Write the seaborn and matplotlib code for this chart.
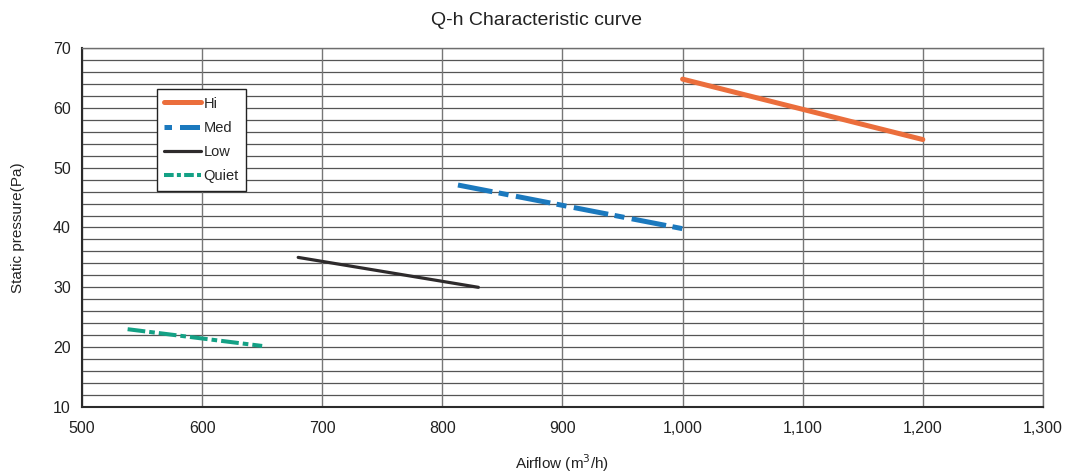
import matplotlib
matplotlib.use("Agg")
import matplotlib.pyplot as plt
import seaborn as sns
import pandas as pd

series_names = ["Hi", "Med", "Low", "Quiet"]
hi_x = [1000, 1200]
hi_y = [64.8, 54.7]
med_x = [813, 1000]
med_y = [47.1, 39.8]
low_x = [680, 830]
low_y = [35.0, 30.0]
quiet_x = [538, 650]
quiet_y = [23.0, 20.2]

x_ticks = [500, 600, 700, 800, 900, 1000, 1100, 1200, 1300]
x_labels = ["500", "600", "700", "800", "900", "1,000", "1,100", "1,200", "1,300"]
y_ticks = [10, 20, 30, 40, 50, 60, 70]

sns.set_theme(style="white")
plt.rcParams['font.family'] = ['Liberation Sans', 'DejaVu Sans']

fig = plt.figure(figsize=(10.73, 4.74), dpi=100)
ax = fig.add_axes([0.0764, 0.1414, 0.8956, 0.7573])

styles = {
    "Hi": dict(color="#EB6E3C", linewidth=3.6, linestyle="-"),
    "Med": dict(color="#1B79BE", linewidth=3.6, linestyle=(0, (7.0, 1.3, 2.0, 1.5))),
    "Low": dict(color="#2E2B2C", linewidth=2.3, linestyle="-"),
    "Quiet": dict(color="#14A185", linewidth=2.9, linestyle=(0, (4.4, 1.0, 1.4, 1.0))),
}
data = {"Hi": (hi_x, hi_y), "Med": (med_x, med_y), "Low": (low_x, low_y), "Quiet": (quiet_x, quiet_y)}

# grid
for yv in range(10, 71, 2):
    ax.axhline(yv, color="#555555", linewidth=0.9, zorder=0)
for xv in x_ticks:
    ax.axvline(xv, color="#777777", linewidth=1.0, zorder=0)

for name in series_names:
    xs, ys = data[name]
    df = pd.DataFrame({"x": xs, "y": ys})
    st = styles[name]
    sns.lineplot(data=df, x="x", y="y", ax=ax, color=st["color"], linewidth=st["linewidth"],
                 linestyle=st["linestyle"], label=name, zorder=3)

ax.set_xlim(500, 1300)
ax.set_ylim(10, 70)
ax.set_xticks(x_ticks)
ax.set_xticklabels(x_labels)
ax.set_yticks(y_ticks)
ax.tick_params(axis="both", labelsize=11.5, colors="#222222", length=0, pad=8)
ax.tick_params(axis="x", length=5, width=1, direction="out", color="#333333", pad=5)

for s in ["left", "bottom"]:
    ax.spines[s].set_color("#2b2b2b")
    ax.spines[s].set_linewidth(1.5)
for s in ["top", "right"]:
    ax.spines[s].set_color("#6e6e6e")
    ax.spines[s].set_linewidth(1.0)

ax.set_xlabel("Airflow (m$^3$/h)", fontsize=11, color="#222222", labelpad=12)
ax.set_ylabel("Static pressure(Pa)", fontsize=11, color="#222222", labelpad=20)
fig.suptitle("Q-h Characteristic curve", fontsize=14, color="#222222", y=0.975)

leg = ax.legend(loc="upper left", bbox_to_anchor=(0.078, 0.885), fontsize=10.5, frameon=True,
                fancybox=False, framealpha=1, edgecolor="#222222", handlelength=2.5,
                handletextpad=0.2, labelspacing=0.7, borderpad=0.5, borderaxespad=0)
leg.get_frame().set_linewidth(1.0)
leg_lines = leg.get_lines()
leg_lines[1].set_linestyle((0, (1.5, 1.6, 4.0, 1.0)))
leg_lines[3].set_linestyle((0, (2.4, 0.8, 1.0, 0.8)))

fig.savefig("out.png", dpi=100)
